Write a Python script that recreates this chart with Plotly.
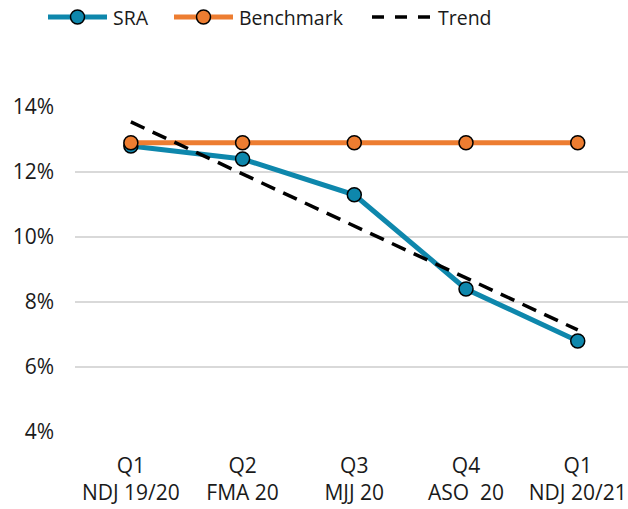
import plotly.graph_objects as go

# Quarterly rates (%)
quarters = ["Q1<br>NDJ 19/20", "Q2<br>FMA 20", "Q3<br>MJJ 20", "Q4<br>ASO  20", "Q1<br>NDJ 20/21"]
sra = [12.8, 12.4, 11.3, 8.4, 6.8]
benchmark = [12.9, 12.9, 12.9, 12.9, 12.9]
trend = [13.54, 11.94, 10.34, 8.74, 7.14]
y_ticks = [4, 6, 8, 10, 12, 14]
y_tick_labels = ["4%", "6%", "8%", "10%", "12%", "14%"]

BLUE = "#0E87AC"
ORANGE = "#ED7D31"
FONT = "Open Sans"
TEXT = "#1a1a1a"

W, H = 628, 509
M_L, M_R, M_T, M_B = 75, 0, 107, 77
PLOT_W = W - M_L - M_R
PLOT_H = H - M_T - M_B

x = list(range(len(quarters)))

fig = go.Figure()
fig.add_trace(go.Scatter(
    x=x, y=sra, name="SRA", mode="lines+markers",
    line=dict(color=BLUE, width=5),
    marker=dict(size=14, color=BLUE, line=dict(color="black", width=1.5)),
))
fig.add_trace(go.Scatter(
    x=x, y=benchmark, name="Benchmark", mode="lines+markers",
    line=dict(color=ORANGE, width=5),
    marker=dict(size=14, color=ORANGE, line=dict(color="black", width=1.5)),
))
fig.add_trace(go.Scatter(
    x=x, y=trend, name="Trend", mode="lines",
    line=dict(color="black", width=3.5, dash="15px,9px"),
))


def px_x(p):
    return (p - M_L) / PLOT_W


def px_y(p):
    return (H - M_B - p) / PLOT_H


# Legend row drawn across the top: (label, colour, dashed, has marker, line start, line end)
legend_items = [
    ("SRA", BLUE, False, True, 48, 107),
    ("Benchmark", ORANGE, False, True, 174, 233),
    ("Trend", "black", True, False, 372, 432),
]
LEG_Y = 17
shapes = []
annotations = []
for label, color, dashed, has_marker, x0, x1 in legend_items:
    shapes.append(dict(
        type="line", xref="paper", yref="paper",
        x0=px_x(x0), x1=px_x(x1), y0=px_y(LEG_Y), y1=px_y(LEG_Y),
        line=dict(color=color, width=3.5 if dashed else 5,
                  dash="12px,11px" if dashed else "solid"),
    ))
    if has_marker:
        cx = (x0 + x1) / 2
        shapes.append(dict(
            type="circle", xref="paper", yref="paper",
            x0=px_x(cx - 7), x1=px_x(cx + 7),
            y0=px_y(LEG_Y + 7), y1=px_y(LEG_Y - 7),
            fillcolor=color, line=dict(color="black", width=1.5),
        ))
    annotations.append(dict(
        xref="paper", yref="paper", x=px_x(x1 + 4), y=px_y(LEG_Y),
        xanchor="left", yanchor="middle", text=label, showarrow=False,
        font=dict(family=FONT, size=19.5, color=TEXT),
    ))

fig.update_layout(
    width=W, height=H,
    margin=dict(l=M_L, r=M_R, t=M_T, b=M_B),
    paper_bgcolor="white", plot_bgcolor="white",
    font=dict(family=FONT, size=21, color=TEXT),
    showlegend=False,
    shapes=shapes,
    annotations=annotations,
    xaxis=dict(
        range=[-0.5, 4.45], tickmode="array", tickvals=x, ticktext=quarters,
        showgrid=False, zeroline=False, showline=False, ticks="",
        tickfont=dict(size=21), ticklabelstandoff=19,
    ),
    yaxis=dict(
        range=[4, 14], tickmode="array", tickvals=y_ticks, ticktext=y_tick_labels,
        showgrid=True, gridcolor="#D9D9D9", gridwidth=1.5,
        zeroline=False, showline=False, ticks="",
        ticklabelstandoff=20, tickfont=dict(size=21),
    ),
)

fig.write_html("out.html")
